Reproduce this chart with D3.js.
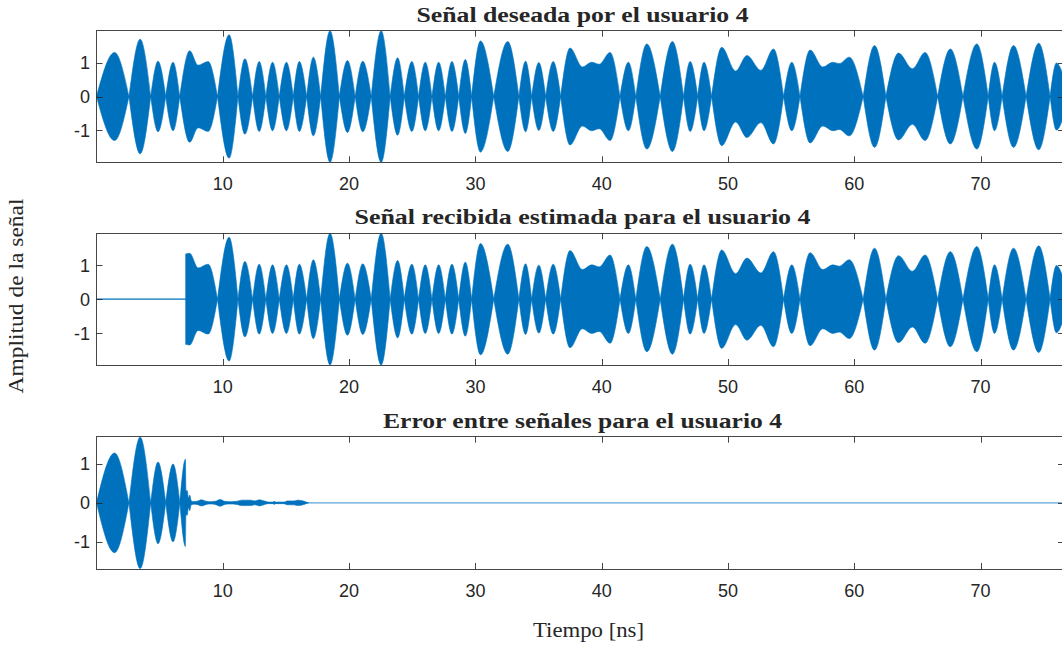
<!DOCTYPE html>
<html>
<head>
<meta charset="utf-8">
<script src="https://cdn.jsdelivr.net/npm/d3@7"></script>
<style>
  html, body { margin: 0; padding: 0; background: #ffffff; }
  svg { display: block; }
</style>
</head>
<body>
<svg id="chart" width="1062" height="645"></svg>
<script>
// ---------------- data ----------------
const titles = [
  "Señal deseada por el usuario 4",
  "Señal recibida estimada para el usuario 4",
  "Error entre señales para el usuario 4"
];
const xLabel = "Tiempo [ns]";
const yLabel = "Amplitud de la señal";
const xTicks = [10, 20, 30, 40, 50, 60, 70];
const yTicks = [-1, 0, 1];
const xMax = 76.6;                 // ns, right edge of the axes
const yLimits = [1.94, 1.94, 1.70]; // symmetric y limits for each panel

// envelope key points of the desired signal (time in ns, amplitude)
const desiredT = [
  0, 1.43, 2.57, 3.46, 4.29, 4.87, 5.48, 6.06, 6.59,
  7.38, 8.04, 8.84, 9.58, 10.5, 11.2, 11.75, 12.36, 12.88, 13.41,
  13.94, 14.47, 15.04, 15.58, 16.06, 16.64, 17.17, 17.75, 18.49, 19.23,
  19.87, 20.48, 21.08, 21.75, 22.54, 23.25, 23.84, 24.37, 24.97, 25.5,
  26.03, 26.56, 27.09, 27.62, 28.14, 28.68, 29.2, 29.7, 30.4, 31.45,
  32.56, 33.44, 33.97, 34.45, 35.02, 35.56, 36.16, 36.75,
  37.49, 38.47, 39.2, 39.8, 40.66, 41.45, 42.11, 42.7, 43.57, 44.63,
  45.6, 46.48, 47.0, 47.6, 48.1, 48.7,
  49.5, 50.6, 51.5, 52.6, 53.6, 54.4, 55.05, 55.7,
  56.5, 57.5, 58.3, 58.8, 59.6, 60.7, 61.6, 62.5,
  63.5, 64.6, 65.6, 66.6, 67.6, 68.6, 69.7, 70.6, 71.1, 71.7,
  72.6, 73.6, 74.6, 75.5, 76.0, 76.6
];
const desiredA = [
  0, 1.30, 0, 1.69, 0, 1.04, 0, 1.01, 0,
  1.35, 0.92, 1.03, 0, 1.82, 0, 1.11, 0, 1.03, 0,
  1.01, 0, 1.01, 0, 1.03, 0, 1.16, 0, 1.94, 0,
  1.06, 0, 1.04, 0, 1.94, 0, 1.14, 0, 1.03, 0,
  1.01, 0, 1.01, 0, 1.03, 0, 1.09, 0, 1.64, 0,
  1.62, 0, 1.04, 0, 1.00, 0, 1.03, 0,
  1.43, 0.87, 1.01, 0.95, 1.30, 0, 1.01, 0, 1.55, 0,
  1.62, 0, 1.03, 0, 1.01, 0,
  1.45, 0.75, 1.21, 0.77, 1.40, 0, 1.01, 0,
  1.37, 0.87, 1.01, 0.97, 1.16, 0, 1.50, 0,
  1.28, 0.82, 1.30, 0, 1.40, 0, 1.55, 0, 1.01, 0,
  1.50, 0, 1.57, 0, 0.99, 0.55
];

// estimated signal: zero until it switches on, then follows the desired one
const estimatedStart = 7.06;
const estimatedStartAmp = 1.33;

// error envelope key points
const errorT = [
  0, 1.43, 2.57, 3.46, 4.29, 4.87, 5.48, 6.06, 6.6, 7.04,
  7.08, 7.18, 7.28, 7.38, 7.5, 7.7, 7.95, 8.3, 8.7, 9.0, 9.4, 9.8, 10.15,
  10.6, 11.1, 11.5, 12.2, 12.55, 12.9, 13.3, 13.6, 14.0, 14.07, 14.14,
  14.85, 15.1, 15.6, 15.97, 16.4, 16.6, 16.8
];
const errorA = [
  0, 1.28, 0, 1.69, 0, 1.05, 0, 1.00, 0, 1.12,
  0.30, 0.32, 0.12, 0.20, 0.05, 0.035, 0.04, 0.08, 0.04, 0.03, 0.04, 0.088, 0.04,
  0.03, 0.04, 0.07, 0.07, 0.05, 0.078, 0.045, 0.02, 0.02, 0.045, 0.02,
  0.02, 0.05, 0.05, 0.07, 0.045, 0.02, 0
];

// ---------------- layout ----------------
const color = "#0072BD";
const axisColor = "#262626";
const left = 96.5, right = 1064;
const panels = [
  { top: 30.7, bottom: 162.3, titleWidth: 332 },
  { top: 233.3, bottom: 365, titleWidth: 456 },
  { top: 436.7, bottom: 569, titleWidth: 399 }
];
const serif = "Liberation Serif, Times New Roman, serif";
const sans = "Liberation Sans, Arial, sans-serif";

const svg = d3.select("#chart");
const x = d3.scaleLinear().domain([0, xMax]).range([left, right]);

function toPoints(T, A) { return T.map((t, i) => ({ t, a: A[i] })); }

// split envelope into lobes at zero amplitude nodes
function lobes(points) {
  const segs = [];
  let cur = [points[0]];
  for (let i = 1; i < points.length; i++) {
    cur.push(points[i]);
    if (points[i].a === 0) {
      if (cur.length > 1) segs.push(cur);
      cur = [points[i]];
    }
  }
  if (cur.length > 1) segs.push(cur);
  return segs;
}

const desiredPts = toPoints(desiredT, desiredA);
const estimatedPts = [{ t: estimatedStart, a: estimatedStartAmp }]
  .concat(desiredPts.filter(p => p.t > estimatedStart));
const errorPts = toPoints(errorT, errorA);

const series = [
  { pts: desiredPts, lineOpacity: 1 },
  { pts: estimatedPts, lineOpacity: 1 },
  { pts: errorPts, lineOpacity: 0.65 }
];

panels.forEach((p, k) => {
  const lim = yLimits[k];
  const y = d3.scaleLinear().domain([-lim, lim]).range([p.bottom, p.top]);
  const g = svg.append("g");

  const clipId = "clip" + k;
  svg.append("clipPath").attr("id", clipId)
    .append("rect").attr("x", left).attr("y", p.top)
    .attr("width", right - left).attr("height", p.bottom - p.top);

  const plot = g.append("g").attr("clip-path", `url(#${clipId})`);

  // zero line (carrier with no/negligible amplitude)
  plot.append("line")
    .attr("x1", x(0)).attr("x2", x(xMax))
    .attr("y1", y(0)).attr("y2", y(0))
    .attr("stroke", color).attr("stroke-width", 1.3)
    .attr("stroke-opacity", series[k].lineOpacity);

  const area = d3.area()
    .x(d => x(d.t))
    .y0(d => y(-d.a))
    .y1(d => y(d.a))
    .curve(d3.curveMonotoneX);

  plot.selectAll("path.env")
    .data(lobes(series[k].pts))
    .join("path")
    .attr("class", "env")
    .attr("d", area)
    .attr("fill", color)
    .attr("stroke", color)
    .attr("stroke-width", 0.6);

  // box
  g.append("rect")
    .attr("x", left).attr("y", p.top)
    .attr("width", right - left).attr("height", p.bottom - p.top)
    .attr("fill", "none").attr("stroke", axisColor).attr("stroke-width", 1)
    .attr("shape-rendering", "crispEdges").attr("stroke-opacity", 0.85);

  // x ticks (bottom & top, inward)
  const tl = 6;
  xTicks.forEach(v => {
    const xx = Math.round(x(v)) + 0.5;
    g.append("line").attr("x1", xx).attr("x2", xx)
      .attr("y1", p.bottom).attr("y2", p.bottom - tl)
      .attr("stroke", axisColor).attr("stroke-width", 1).attr("stroke-opacity", 0.85);
    g.append("line").attr("x1", xx).attr("x2", xx)
      .attr("y1", p.top).attr("y2", p.top + tl)
      .attr("stroke", axisColor).attr("stroke-width", 1).attr("stroke-opacity", 0.85);
    g.append("text")
      .attr("x", x(v)).attr("y", p.bottom + 28)
      .attr("text-anchor", "middle")
      .attr("font-family", sans)
      .attr("font-size", 18).attr("fill", axisColor)
      .text(v);
  });

  // y ticks (left & right, inward)
  yTicks.forEach(v => {
    const yy = Math.round(y(v)) + 0.5;
    g.append("line").attr("x1", left).attr("x2", left + tl)
      .attr("y1", yy).attr("y2", yy)
      .attr("stroke", axisColor).attr("stroke-width", 1).attr("stroke-opacity", 0.85);
    g.append("line").attr("x1", right).attr("x2", right - tl)
      .attr("y1", yy).attr("y2", yy)
      .attr("stroke", axisColor).attr("stroke-width", 1).attr("stroke-opacity", 0.85);
    g.append("text")
      .attr("x", left - 6.5).attr("y", y(v))
      .attr("dy", "0.36em")
      .attr("text-anchor", "end")
      .attr("font-family", sans)
      .attr("font-size", 18).attr("fill", axisColor)
      .text(v < 0 ? "-" + Math.abs(v) : String(v));
  });

  // title
  svg.append("text")
    .attr("x", 582.5).attr("y", p.top - 9)
    .attr("text-anchor", "middle")
    .attr("font-family", serif)
    .attr("font-weight", "bold")
    .attr("font-size", 20.5).attr("fill", axisColor)
    .attr("textLength", p.titleWidth)
    .attr("lengthAdjust", "spacingAndGlyphs")
    .text(titles[k]);
});

// x label
svg.append("text")
  .attr("x", 588.5).attr("y", 636.5)
  .attr("text-anchor", "middle")
  .attr("font-family", serif)
  .attr("font-size", 20).attr("fill", axisColor)
  .attr("textLength", 111)
  .attr("lengthAdjust", "spacingAndGlyphs")
  .text(xLabel);

// y label
svg.append("text")
  .attr("transform", "translate(23,296) rotate(-90)")
  .attr("text-anchor", "middle")
  .attr("font-family", serif)
  .attr("font-size", 20).attr("fill", axisColor)
  .attr("textLength", 195)
  .attr("lengthAdjust", "spacingAndGlyphs")
  .text(yLabel);
</script>
</body>
</html>
